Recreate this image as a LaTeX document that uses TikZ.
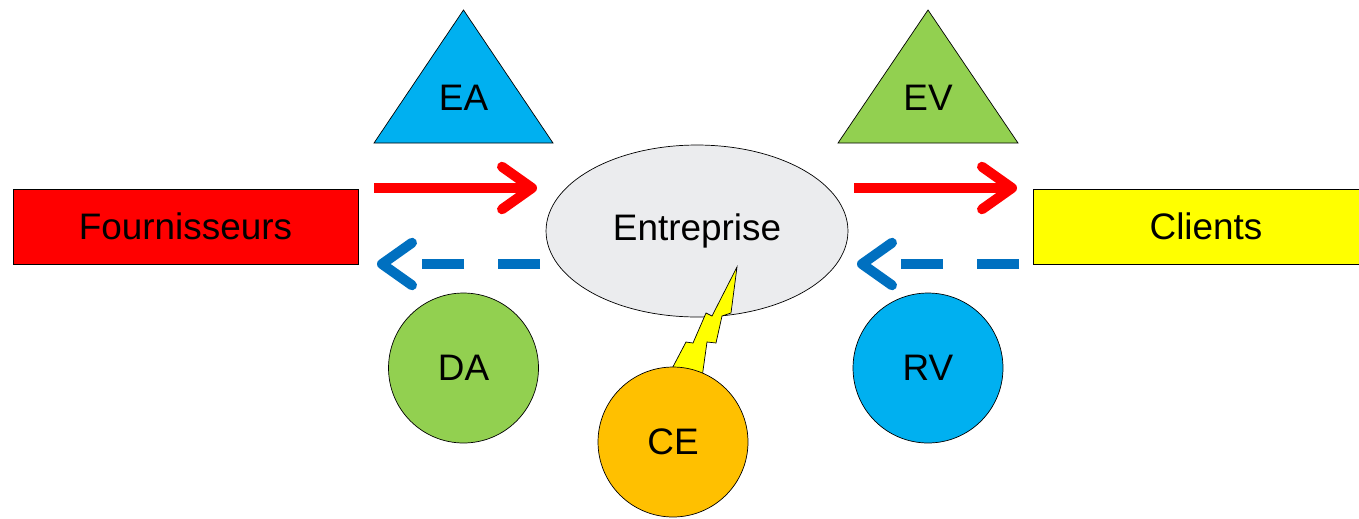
\documentclass[tikz,border=0pt]{standalone}
\usepackage{fontspec}
\setmainfont{Liberation Sans}
\usetikzlibrary{arrows.meta,shapes.geometric}
\definecolor{rouge}{RGB}{255,0,0}
\definecolor{jaune}{RGB}{255,255,0}
\definecolor{ciel}{RGB}{0,176,240}
\definecolor{herbe}{RGB}{146,208,80}
\definecolor{orange}{RGB}{255,192,0}
\definecolor{gris}{RGB}{235,236,238}
\definecolor{bleu}{RGB}{0,112,192}
\begin{document}
\begin{tikzpicture}[x=0.02cm,y=-0.02cm,
    every node/.style={font=\fontsize{21}{25}\selectfont},
    acteur/.style={draw,thin,minimum width=6.9cm,minimum height=1.5cm,inner sep=0},
    rond/.style={circle,draw,thin,minimum size=3cm,inner sep=0},
    fluxflux/.style={line width=0.2cm,-{Straight Barb[length=0.6cm,width=0.85cm,round]}},
    physique/.style={fluxflux,rouge},
    monnaie/.style={fluxflux,bleu,dash pattern=on 0.84cm off 0.68cm}]
  \useasboundingbox (0,0) rectangle (1359,518);
  \node[acteur,fill=rouge] (four) at (185.5,226.5) {Fournisseurs};
  \node[acteur,fill=jaune,minimum width=6.92cm] (cli) at (1206,226.5) {Clients};
  \node[ellipse,draw,thin,fill=gris,minimum width=6.04cm,minimum height=3.44cm,inner sep=0]
    (ent) at (697,231) {Entreprise};
  \draw[thin,fill=ciel] (374,143) -- (463.5,10) -- (553,143) -- cycle;
  \node (ea) at (463.5,98) {EA};
  \draw[thin,fill=herbe] (838,143) -- (928,10) -- (1018,143) -- cycle;
  \node (ev) at (928,98) {EV};
  \draw[thin,fill=jaune] (737,267) -- (731,313) -- (722,316) -- (716,343) -- (707,342)
    -- (701,385) -- (666,380) -- (686,342) -- (693,343) -- (706,313) -- (712,316) -- cycle;
  \node[rond,fill=herbe] (da) at (463.5,368) {DA};
  \node[rond,fill=ciel] (rv) at (928,368) {RV};
  \node[rond,fill=orange] (ce) at (673,442) {CE};
  \coordinate (a1) at (374,188);
  \coordinate (a2) at (537,188);
  \coordinate (a3) at (854,188);
  \coordinate (a4) at (1017,188);
  \coordinate (b1) at (540,264);
  \coordinate (b2) at (377,264);
  \coordinate (b3) at (1019,264);
  \coordinate (b4) at (857,264);
  \draw[physique] (a1) -- (a2);
  \draw[physique] (a3) -- (a4);
  \draw[monnaie] (b1) -- (b2);
  \draw[monnaie] (b3) -- (b4);
\end{tikzpicture}
\end{document}
